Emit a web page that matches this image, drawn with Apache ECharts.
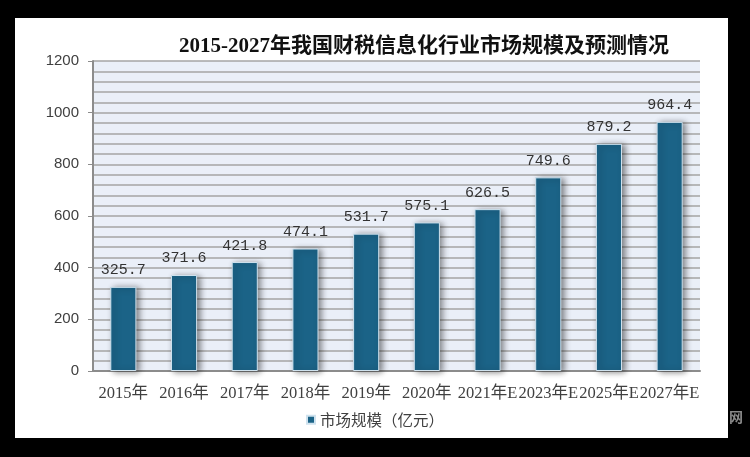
<!DOCTYPE html>
<html>
<head>
<meta charset="utf-8">
<script src="https://cdn.jsdelivr.net/npm/echarts@6/dist/echarts.min.js"></script>
<style>
html,body{margin:0;padding:0;background:#000;}
#panel{position:absolute;left:15px;top:18px;width:713px;height:420px;background:#fff;}
#chart{position:absolute;left:0;top:0;width:750px;height:457px;}
</style>
</head>
<body>
<div id="panel"></div>
<div id="chart"></div>
<script>
const categories = ['2015年','2016年','2017年','2018年','2019年','2020年','2021年E','2023年E','2025年E','2027年E'];
const marketSize = [325.7, 371.6, 421.8, 474.1, 531.7, 575.1, 626.5, 749.6, 879.2, 964.4];
const yTicks = [0, 200, 400, 600, 800, 1000, 1200];
const titleText = '2015-2027年我国财税信息化行业市场规模及预测情况';
const seriesName = '市场规模（亿元）';

const chart = echarts.init(document.getElementById('chart'), null, {renderer: 'canvas'});
chart.setOption({
  backgroundColor: 'transparent',
  animation: false,
  title: {
    text: titleText,
    left: 419, top: 31, textAlign: 'center',
    textStyle: {fontFamily: '"Liberation Serif","Noto Sans CJK SC",serif', fontSize: 21, fontWeight: 'bold', color: '#111'}
  },
  legend: {
    data: [seriesName],
    left: 'center', top: 407,
    icon: 'rect', itemWidth: 8, itemHeight: 8, itemGap: 4,
    textStyle: {fontFamily: '"Noto Sans CJK SC",sans-serif', fontSize: 15.5, color: '#404040'}
  },
  grid: {
    left: 93, right: 50, top: 61, bottom: 86,
    show: true, backgroundColor: '#eaeff8', borderWidth: 0
  },
  xAxis: {
    type: 'category',
    data: categories,
    axisLine: {lineStyle: {color: '#8c8c8c', width: 2}},
    axisTick: {show: false},
    axisLabel: {interval: 0, margin: 14, color: '#404040', fontSize: 16.5,
      fontFamily: '"Liberation Serif","Noto Sans CJK SC",serif'}
  },
  yAxis: {
    type: 'value',
    min: yTicks[0], max: yTicks[yTicks.length-1], interval: 200,
    axisLine: {show: true, lineStyle: {color: '#8c8c8c', width: 2}},
    axisTick: {show: true, length: 5, lineStyle: {color: '#8c8c8c'}},
    axisLabel: {margin: 14, color: '#404040', fontSize: 15, fontFamily: '"Liberation Sans",sans-serif',
      formatter: function (v) { return String(v); }},
    splitLine: {lineStyle: {color: '#a5a5a5', width: 1.6}},
    minorTick: {show: false, splitNumber: 5},
    minorSplitLine: {show: true, lineStyle: {color: '#a5a5a5', width: 1.6}}
  },
  series: [{
    name: seriesName,
    type: 'bar',
    data: marketSize,
    barWidth: '43%',
    itemStyle: {
      color: '#1b6387',
      borderColor: '#cfe2ee', borderWidth: 1,
      shadowColor: 'rgba(0,0,0,0.45)', shadowBlur: 6, shadowOffsetX: 3, shadowOffsetY: 1
    },
    label: {
      show: true, position: 'top', distance: 9,
      color: '#333', fontSize: 15,
      fontFamily: '"Liberation Mono","DejaVu Sans Mono",monospace'
    }
  }],
  graphic: [{
    type: 'text', left: 729, top: 410,
    style: {text: '网', fill: '#8a8a8a', fontSize: 14, fontWeight: 'bold', fontFamily: '"Noto Sans CJK SC",sans-serif'}
  }]
});
</script>
</body>
</html>
